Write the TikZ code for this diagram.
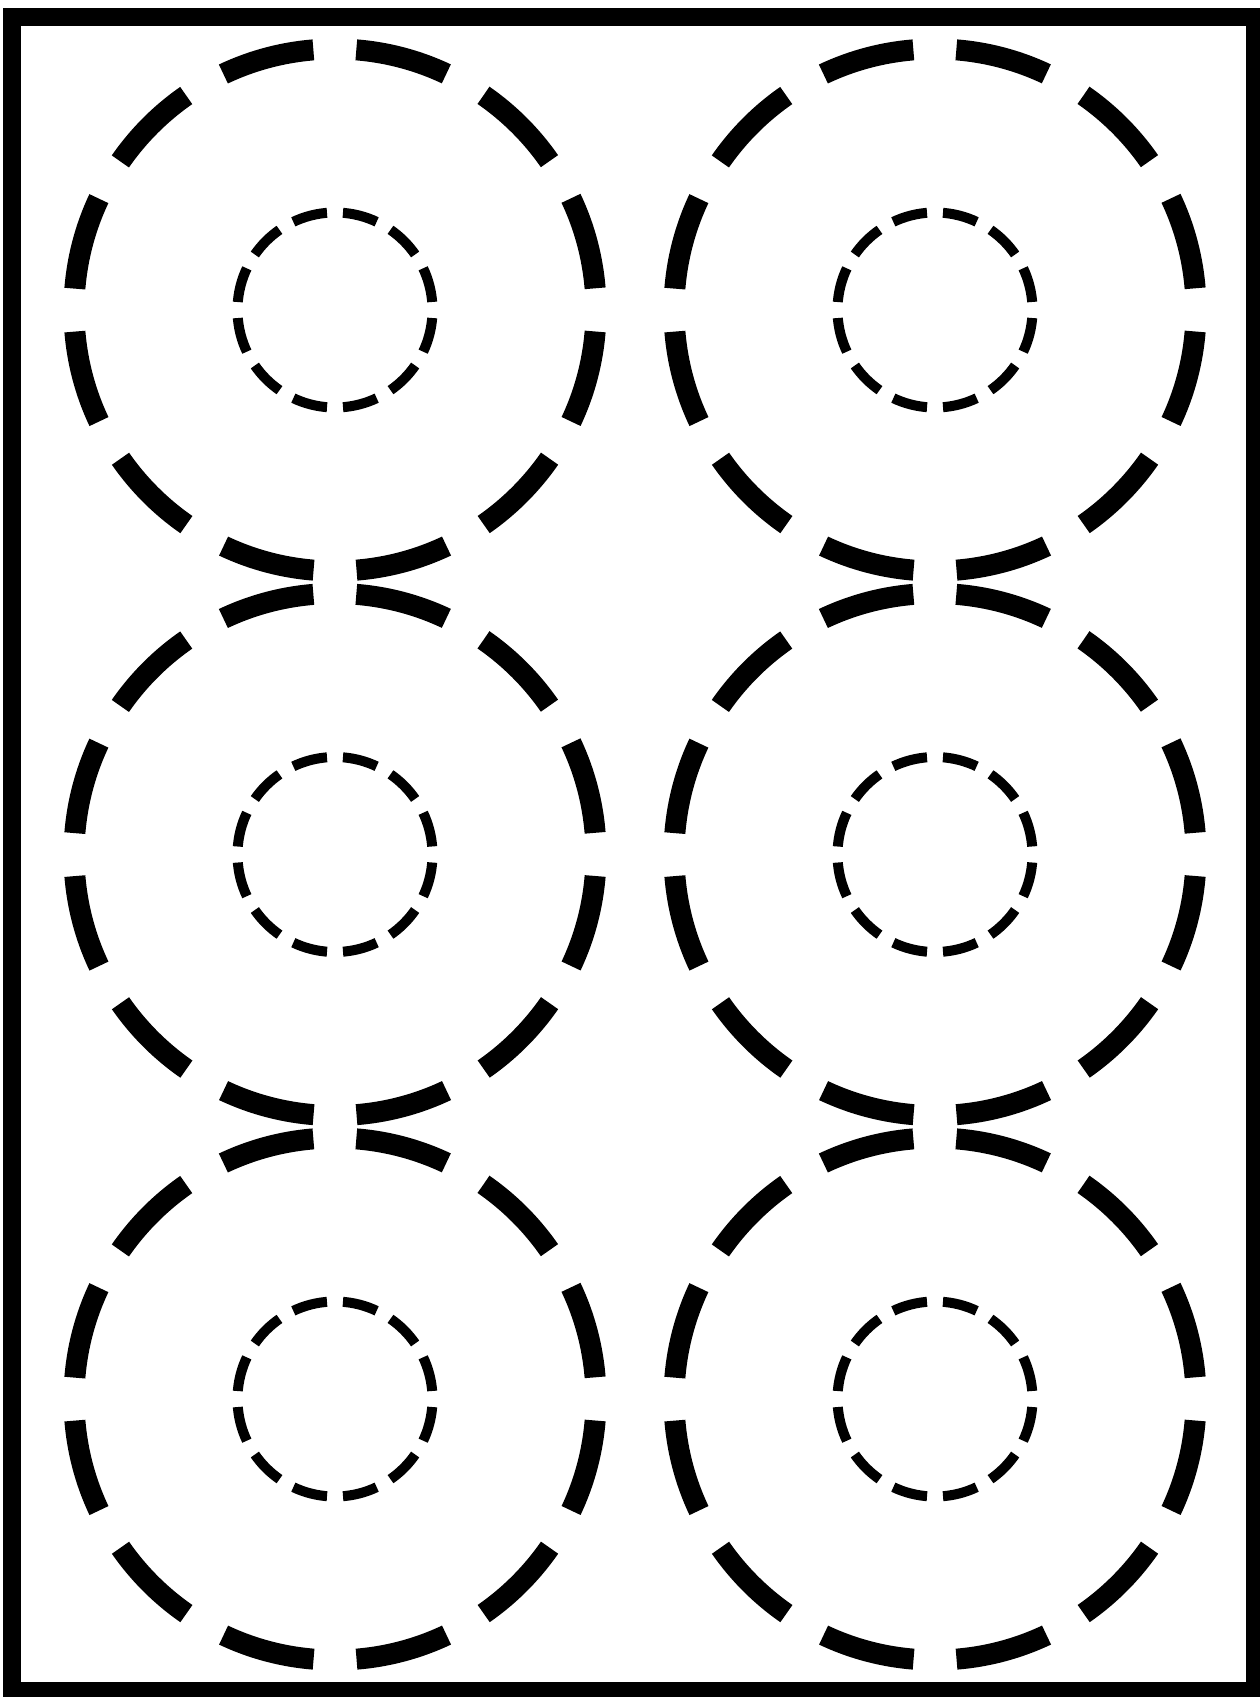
\documentclass[tikz,border=0pt]{standalone}
\usepackage{tikz}
\tikzset{frame/.style={draw=black,line width=9pt},rim/.style={draw=black,line width=10.5pt,dash pattern={on 46.83pt off 21.5pt},dash phase=57.58pt},hub/.style={draw=black,line width=5pt,dash pattern={on 17.525pt off 8pt},dash phase=21.525pt}}
\begin{document}
\begin{tikzpicture}[x=0.5pt,y=-0.5pt]
\useasboundingbox (0,0) rectangle (1259,1697);
\draw[frame] (12,17) rectangle (1255,1691);
\foreach \x in {335,935}{
\foreach \y in {310,854.5,1399}{
\draw[rim] (\x,\y) circle[radius=261];
\draw[hub] (\x,\y) circle[radius=97.5];
}}
\end{tikzpicture}
\end{document}
